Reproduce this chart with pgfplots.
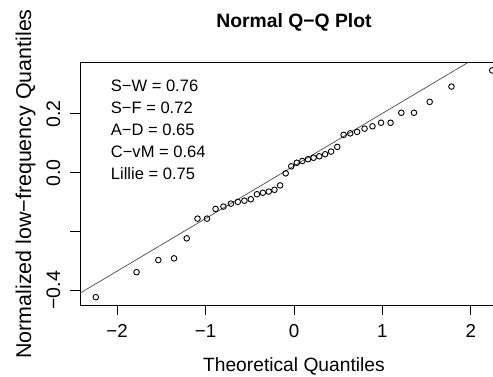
\documentclass[border=0pt]{standalone}
\usepackage{pgfplots}
\pgfplotsset{compat=1.18}
\usepackage{fontspec}
\setmainfont{Liberation Sans}
\pgfplotstableread{
x y
-2.2414 -0.423
-1.7805 -0.338
-1.5341 -0.297
-1.3563 -0.291
-1.2133 -0.223
-1.0916 -0.156
-0.9842 -0.156
-0.8871 -0.123
-0.7979 -0.115
-0.7137 -0.105
-0.6356 -0.099
-0.5607 -0.095
-0.4888 -0.090
-0.4193 -0.073
-0.3518 -0.068
-0.2858 -0.064
-0.2211 -0.058
-0.1573 -0.043
-0.0941 -0.002
-0.0313 0.022
0.0313 0.034
0.0941 0.040
0.1573 0.046
0.2211 0.051
0.2858 0.056
0.3518 0.063
0.4193 0.072
0.4888 0.088
0.5607 0.129
0.6356 0.134
0.7137 0.139
0.7979 0.150
0.8871 0.158
0.9842 0.170
1.0916 0.170
1.2133 0.204
1.3563 0.204
1.5341 0.241
1.7805 0.293
2.2414 0.348
}\qqdata
\begin{document}
\begin{tikzpicture}
\useasboundingbox (0,0) rectangle (493bp,377bp);
\begin{axis}[
  at={(80bp,71.3bp)}, anchor=south west,
  scale only axis, width=413bp, height=243.4bp,
  xmin=-2.42, xmax=2.25, ymin=-0.452, ymax=0.3756,
  axis line style={draw=none},
  xtick={-2,-1,0,1,2}, xticklabels={−2,−1,0,1,2},
  ytick={-0.4,-0.2,0,0.2}, yticklabels={−0.4,,0.0,0.2},
  xtick pos=bottom, ytick pos=left,
  tick align=outside, major tick length=9.5bp,
  tick style={black, line width=0.9bp},
  xticklabel style={font=\fontsize{18.8}{20}\selectfont, anchor=north, inner sep=0pt},
  yticklabel style={font=\fontsize{19.6}{20}\selectfont, rotate=90, anchor=south, inner sep=0pt},
  xticklabel shift=9bp, yticklabel shift=10bp,
  title={Normal Q−Q Plot},
  title style={font=\fontsize{19.4}{22}\selectfont\bfseries, at={(axis description cs:0.518,1.1204)}, anchor=base, inner sep=0pt},
  xlabel={Theoretical Quantiles},
  xlabel style={font=\fontsize{19.3}{22}\selectfont, at={(axis description cs:0.518,-0.2683)}, anchor=base, inner sep=0pt},
  ylabel={Normalized low−frequency Quantiles},
  ylabel style={font=\fontsize{21.5}{24}\selectfont, at={(axis description cs:-0.1186,0.5)}, anchor=base, inner sep=0pt},
]
\draw[black, line width=0.9bp] (rel axis cs:1,0) -- (rel axis cs:0,0) -- (rel axis cs:0,1) -- (rel axis cs:1,1);
\addplot[black!70, line width=0.7bp] coordinates {(-2.42,-0.4095) (2.25,0.4255)};
\addplot[only marks, mark=o, mark size=2.8bp, mark options={line width=0.9bp, black}] table[x=x,y=y] {\qqdata};
\end{axis}
\node[anchor=base west, inner sep=0pt, font=\fontsize{16.6}{20}\selectfont] at (110.7bp,285.5bp) {S−W = 0.76};
\node[anchor=base west, inner sep=0pt, font=\fontsize{16.6}{20}\selectfont] at (110.7bp,263.4bp) {S−F = 0.72};
\node[anchor=base west, inner sep=0pt, font=\fontsize{16.6}{20}\selectfont] at (110.7bp,241.3bp) {A−D = 0.65};
\node[anchor=base west, inner sep=0pt, font=\fontsize{16.6}{20}\selectfont] at (110.7bp,219.2bp) {C−vM = 0.64};
\node[anchor=base west, inner sep=0pt, font=\fontsize{16.6}{20}\selectfont] at (110.7bp,197.1bp) {Lillie = 0.75};
\end{tikzpicture}
\end{document}
